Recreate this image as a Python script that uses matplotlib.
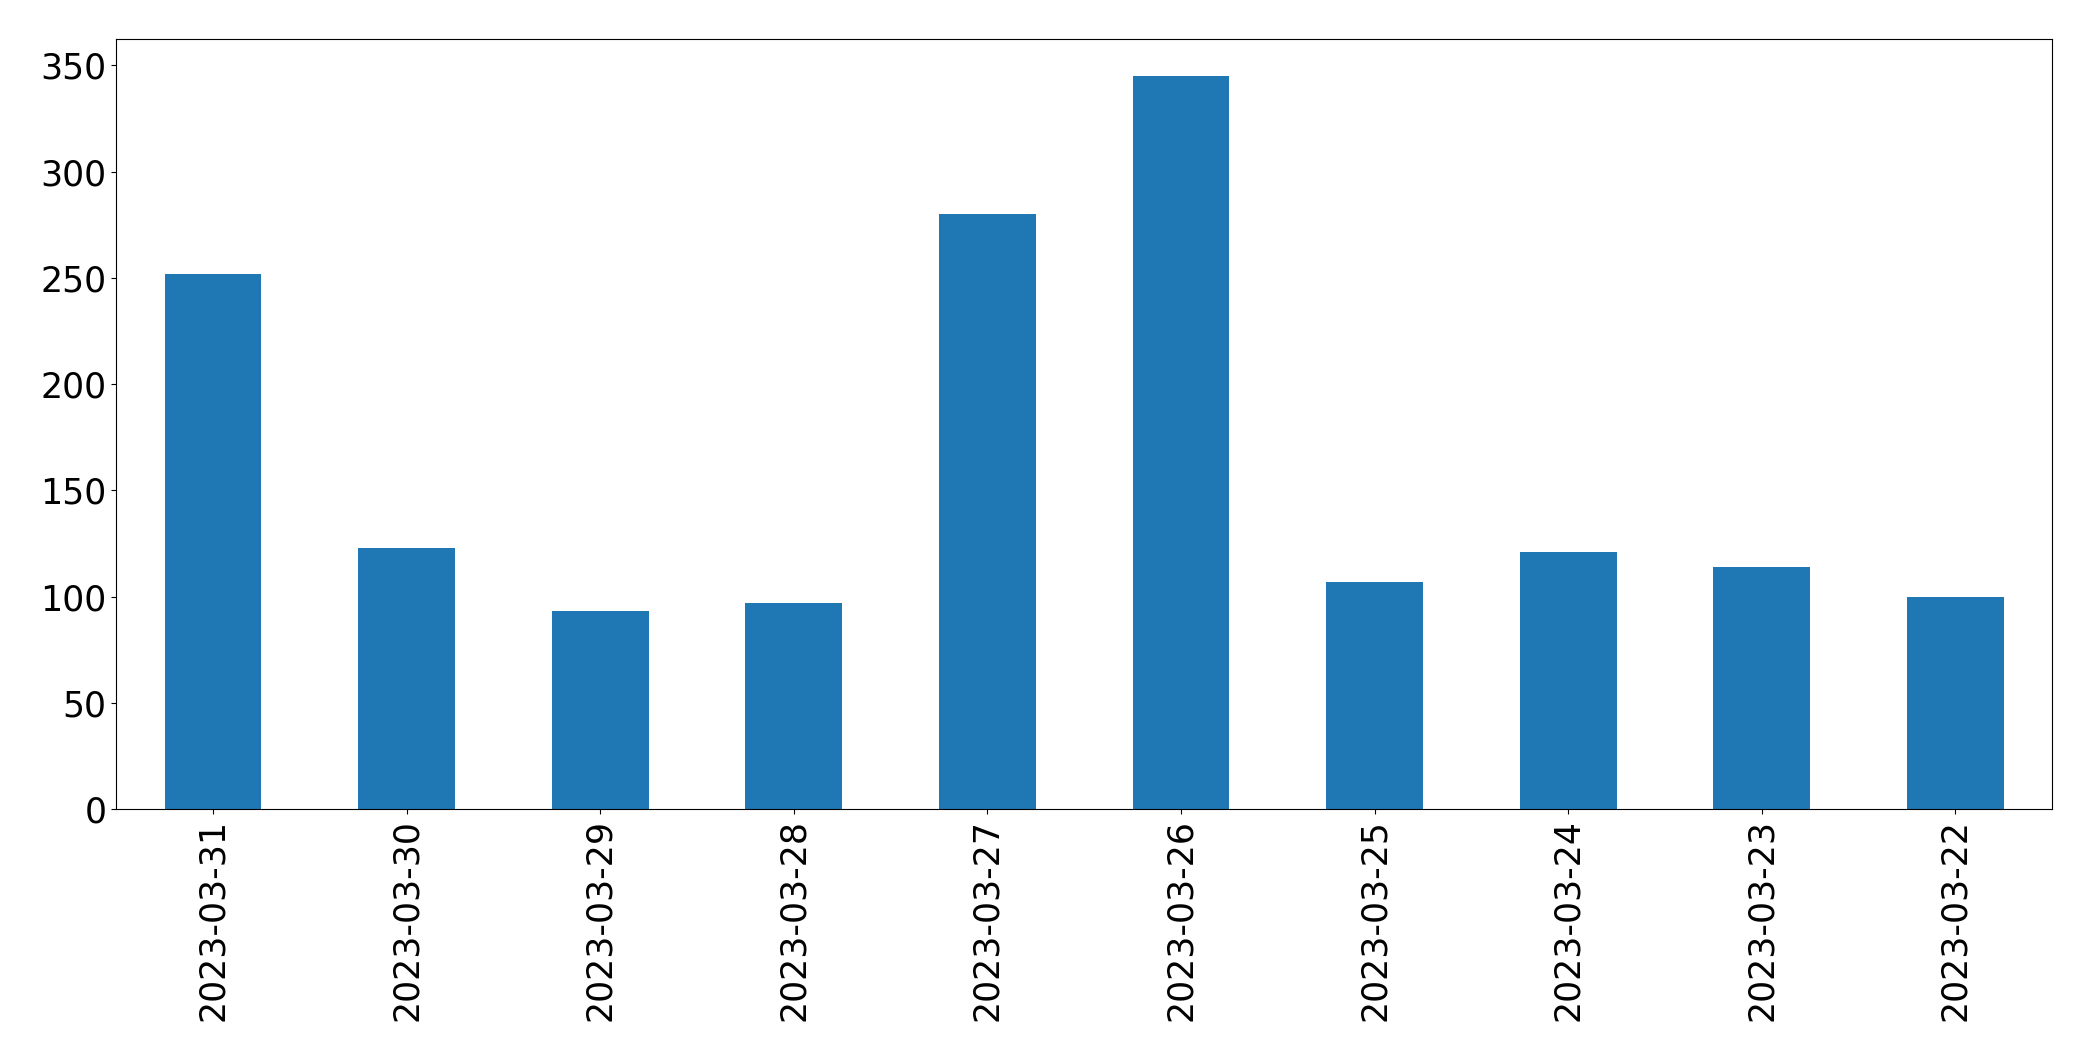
import matplotlib
matplotlib.use("Agg")
import matplotlib.pyplot as plt

# daily counts, newest first (as in the source)
dates = ["2023-03-31", "2023-03-30", "2023-03-29", "2023-03-28", "2023-03-27",
         "2023-03-26", "2023-03-25", "2023-03-24", "2023-03-23", "2023-03-22"]
counts = [252, 123, 93, 97, 280, 345, 107, 121, 114, 100]

fig, ax = plt.subplots(figsize=(20.93, 10.61), dpi=100)
fig.subplots_adjust(left=0.0555, right=0.9805, top=0.963, bottom=0.2375)

x = range(len(dates))
ax.bar(x, counts, width=0.5, color="#1f77b4")
ax.set_xlim(-0.5, len(dates) - 0.5)
ax.set_xticks(list(x))
ax.set_xticklabels(dates, rotation=90)
ax.tick_params(axis="both", labelsize=25)

fig.savefig("out.png", dpi=100)
